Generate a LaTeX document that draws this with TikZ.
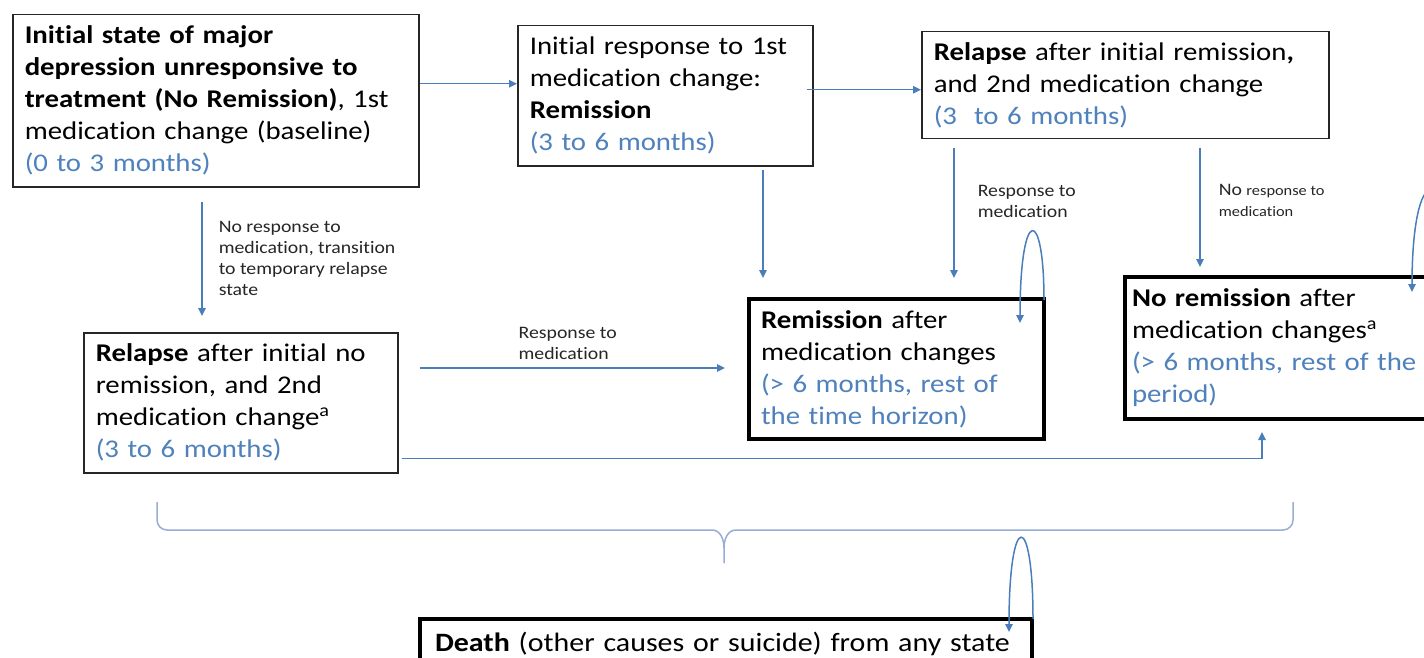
\documentclass[tikz,border=0pt]{standalone}
\usepackage{fontspec}
\setmainfont{Carlito}[FakeStretch=1.13,Ligatures=NoCommon]
\usetikzlibrary{arrows.meta,calc}
\definecolor{tblue}{RGB}{79,129,189}
\definecolor{lnblue}{RGB}{74,126,187}
\definecolor{brblue}{RGB}{150,175,215}
\begin{document}
\begin{tikzpicture}[x=1pt,y=-1pt,
  state/.style={draw=black!85,line width=1.5pt,anchor=north west,align=left,inner xsep=12pt,inner ysep=0pt,font=\fontsize{25.5}{32}\selectfont},
  final/.style={state,draw=black,line width=4pt},
  link/.style={draw=lnblue,line width=1.5pt,-{Triangle[length=8pt,width=7.5pt]}},
  lbl/.style={align=left,inner sep=0pt,font=\fontsize{17.5}{21}\selectfont,text=black!85},
  brace/.style={draw=brblue,line width=1.5pt}]
\useasboundingbox (0,0) rectangle (1424,658);
\clip (0,0) rectangle (1424,658);
\fill[white] (0,0) rectangle (1424,658);
\node[state,text width=382pt,minimum height=172pt] (init) at (12,14) {\textbf{Initial state of major}\\\textbf{depression unresponsive to}\\\textbf{treatment (No Remission)}, 1st\\medication change (baseline)\\\textcolor{tblue}{(0 to 3 months)}};
\node[state,text width=271pt,minimum height=140pt] (resp1) at (517,25) {Initial response to 1st\\medication change:\\\textbf{Remission}\\\textcolor{tblue}{(3 to 6 months)}};
\node[state,text width=383pt,minimum height=107pt] (relA) at (921,31) {\textbf{Relapse} after initial remission\textbf{,}\\and 2nd medication change\\\textcolor{tblue}{(3\ \ to 6 months)}};
\node[state,text width=290pt,minimum height=140pt] (relB) at (83,332) {\textbf{Relapse} after initial no\\remission, and 2nd\\medication change\textsuperscript{a}\\\textcolor{tblue}{(3 to 6 months)}};
\node[final,text width=271pt,minimum height=140pt] (rem) at (747,297) {\textbf{Remission} after\\medication changes\\\textcolor{tblue}{(> 6 months, rest of}\\\textcolor{tblue}{the time horizon)}};
\node[final,inner xsep=7pt,text width=326pt,minimum height=142pt] (norem) at (1123,275) {\textbf{No remission} after\\medication changes\textsuperscript{a}\\\textcolor{tblue}{(> 6 months, rest of the}\\\textcolor{tblue}{period)}};
\node[final,inner xsep=15pt,text width=582pt,minimum height=50pt,font=\fontsize{26.5}{32}\selectfont] (death) at (418,617) {\textbf{Death} (other causes or suicide) from any state};

\draw[link] ($(init.east)+(0,-17)$) -- ($(resp1.west)+(0,-12)$);
\draw[link] ($(resp1.east)+(-7,-6)$) -- ($(relA.west)+(0,4.5)$);
\draw[link] ($(init.south west)+(190,14)$) -- node[lbl,right=16pt] {No response to\\medication, transition\\to temporary relapse\\state} ($(relB.north west)+(119,-16)$);
\draw[link] ($(resp1.south west)+(246,3)$) -- ($(rem.north west)+(16,-19)$);
\draw[link] ($(relA.south west)+(33,9)$) -- node[lbl,pos=0.41,right=23pt] {Response to\\medication} ($(rem.north west)+(207,-19)$);
\draw[link] ($(relA.south west)+(279,9)$) -- node[lbl,pos=0.44,right=18pt] {No {\fontsize{14.5}{21}\selectfont response to}\\{\fontsize{14.5}{21}\selectfont medication}} ($(norem.north west)+(77,-8)$);
\draw[link] ($(relB.north east)+(21,36)$) -- node[lbl,pos=0.485,above=8pt] {Response to\\medication} ($(rem.north west)+(-22,71)$);
\draw[link] ($(relB.south east)+(3,-15)$) -| ($(norem.south west)+(139,11)$);
\draw[link] ($(rem.north east)+(-2,3)$) .. controls +(0,-95) and +(0,-118) .. ($(rem.north east)+(-26,26)$);
\draw[link] ($(norem.north west)+(325,0)$) .. controls +(0,-115) and +(0,-132) .. ($(norem.north west)+(289,17)$);
\draw[link] ($(death.north east)+(-1,2)$) .. controls +(0,-110) and +(0,-123) .. ($(death.north east)+(-25,15)$);

\draw[brace] (157,502) -- (157,520) to[out=-90,in=180] (167,530) -- (712,530) to[out=0,in=90] (724,548) -- (724,563)
  (724,548) to[out=90,in=180] (736,530) -- (1283,530) to[out=0,in=-90] (1293,520) -- (1293,502);
\end{tikzpicture}
\end{document}
